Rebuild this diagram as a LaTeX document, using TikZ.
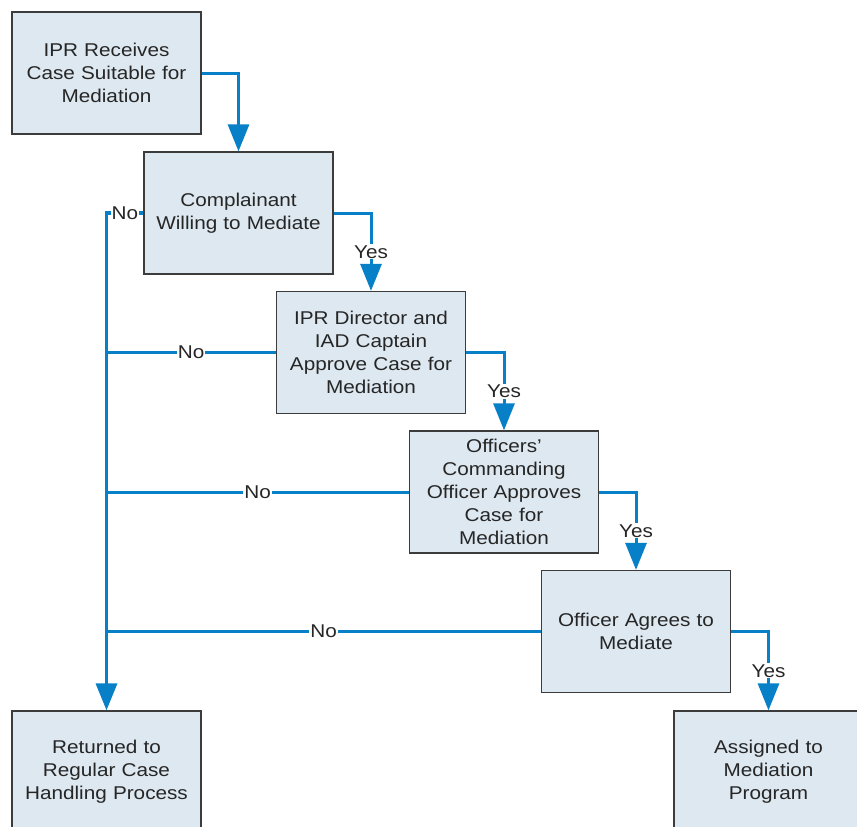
\documentclass[tikz,border=0pt]{standalone}
\usepackage{fontspec}
\setmainfont{Liberation Sans}[FakeStretch=1.12]
\usetikzlibrary{arrows.meta}
\definecolor{flowblue}{HTML}{0780C8}
\definecolor{boxfill}{HTML}{DDE8F0}
\definecolor{boxedge}{HTML}{3C3C3C}
\definecolor{inkgray}{HTML}{262626}
\begin{document}
\begin{tikzpicture}[x=1pt, y=-1pt,
  stepbox/.style={draw=boxedge, line width=1.3pt, fill=boxfill, minimum width=189pt,
    minimum height=122pt, inner sep=0pt, text width=180pt, align=center, text=inkgray,
    font=\fontsize{18.5}{23}\selectfont},
  flow/.style={draw=flowblue, line width=3pt, -{Triangle[width=21pt,length=27pt]}},
  noline/.style={draw=flowblue, line width=3pt},
  lbl/.style={fill=white, inner sep=1pt, text=inkgray, font=\fontsize{18.5}{22}\selectfont}]
\fill[white] (0,0) rectangle (857,827);
\clip (0,0) rectangle (857,827);
% steps
\node[stepbox] (recv) at (106.5,73) {IPR Receives\\Case Suitable for\\Mediation};
\node[stepbox] (compl) at (238.5,213) {Complainant\\Willing to Mediate};
\node[stepbox] (iprdir) at (371,352.5) {IPR Director and\\IAD Captain\\Approve Case for\\Mediation};
\node[stepbox] (cmdoff) at (504,492) {Officers'\\Commanding\\Officer Approves\\Case for\\Mediation};
\node[stepbox] (offagr) at (636,631.5) {Officer Agrees to\\Mediate};
% outcomes
\node[stepbox] (returned) at (106.5,772) {Returned to\\Regular Case\\Handling Process};
\node[stepbox] (assigned) at (768.5,772) {Assigned to\\Mediation\\Program};
% yes path
\draw[flow] (recv.east) -| (compl.north);
\draw[flow] (compl.east) -| node[lbl, pos=0.75] {Yes} (iprdir.north);
\draw[flow] (iprdir.east) -| node[lbl, pos=0.75] {Yes} (cmdoff.north);
\draw[flow] (cmdoff.east) -| node[lbl, pos=0.75] {Yes} (offagr.north);
\draw[flow] (offagr.east) -| node[lbl, pos=0.75] {Yes} (assigned.north);
% no path
\draw[flow, line width=3.5pt] (compl.west) -| node[lbl, pos=0.25] {No} (returned.north);
\draw[noline] (iprdir.west) -- node[lbl] {No} (iprdir.west -| returned.north);
\draw[noline] (cmdoff.west) -- node[lbl] {No} (cmdoff.west -| returned.north);
\draw[noline] (offagr.west) -- node[lbl] {No} (offagr.west -| returned.north);
\end{tikzpicture}
\end{document}
